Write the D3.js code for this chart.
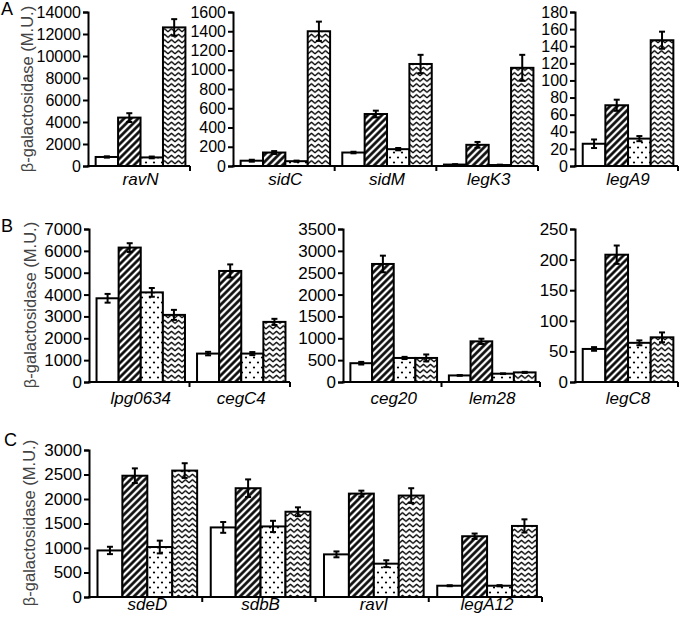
<!DOCTYPE html>
<html><head><meta charset="utf-8">
<script src="https://cdn.jsdelivr.net/npm/d3@7"></script>
<style>body{margin:0;background:#fff} text{font-family:"Liberation Sans",Arial,sans-serif}</style>
</head><body><svg id="c" width="680" height="620"></svg>
<script>
// ---------- data ----------
const genes     = ["ravN","sidC","sidM","legK3","legA9","lpg0634","cegC4","ceg20","lem28","legC8","sdeD","sdbB","ravI","legA12"];
const openVals  = [820, 55, 140, 15, 26, 3830, 1300, 430, 150, 54, 950, 1420, 870, 230];
const hatchVals = [4400, 140, 540, 220, 71, 6150, 5080, 2700, 930, 208, 2475, 2220, 2110, 1240];
const dotVals   = [780, 50, 175, 10, 32, 4100, 1300, 550, 190, 64, 1020, 1440, 680, 230];
const wavyVals  = [12600, 1400, 1060, 1020, 147, 3070, 2750, 550, 220, 73, 2580, 1740, 2070, 1450];
const openErr   = [60, 10, 8, 4, 5, 200, 80, 30, 8, 3, 75, 110, 60, 10];
const hatchErr  = [400, 15, 35, 30, 6.5, 200, 300, 190, 60, 15, 150, 180, 60, 55];
const dotErr    = [80, 6, 12, 4, 3, 200, 70, 25, 8, 4, 130, 115, 70, 12];
const wavyErr   = [750, 100, 95, 135, 10, 230, 140, 80, 12, 8, 150, 90, 150, 135];

const ticksA1 = [0,2000,4000,6000,8000,10000,12000,14000];
const ticksA2 = [0,200,400,600,800,1000,1200,1400,1600];
const ticksA3 = [0,20,40,60,80,100,120,140,160,180];
const ticksB1 = [0,1000,2000,3000,4000,5000,6000,7000];
const ticksB2 = [0,500,1000,1500,2000,2500,3000,3500];
const ticksB3 = [0,50,100,150,200,250];
const ticksC  = [0,500,1000,1500,2000,2500,3000];

const patterns = ["open","hatch","dots","wavy"];
const yTitle = "β-galactosidase (M.U.)";

// ---------- layout ----------
const plots = [
  {genes:["ravN"], ticks:ticksA1, x0:88, x1:190, yTop:12, yZero:166, fs:16, lab:19},
  {genes:["sidC","sidM","legK3"], ticks:ticksA2, x0:233, x1:538, yTop:12, yZero:166, fs:16, lab:19},
  {genes:["legA9"], ticks:ticksA3, x0:575, x1:678, yTop:12, yZero:166, fs:16, lab:19},
  {genes:["lpg0634","cegC4"], ticks:ticksB1, x0:89, x1:290, yTop:229, yZero:382, fs:17, lab:22},
  {genes:["ceg20","lem28"], ticks:ticksB2, x0:343, x1:540, yTop:229, yZero:382, fs:17, lab:22},
  {genes:["legC8"], ticks:ticksB3, x0:575, x1:678, yTop:229, yZero:382, fs:17, lab:22},
  {genes:["sdeD","sdbB","ravI","legA12"], ticks:ticksC, x0:89, x1:542, yTop:450, yZero:597, fs:17, lab:13}
];
const titles = [{y:89, x:33, letter:"A", lx:1, ly:15},
                {y:305, x:36, letter:"B", lx:1, ly:232},
                {y:523, x:35, letter:"C", lx:4, ly:446}];

const svg = d3.select("#c");
const defs = svg.append("defs");
// hatch
const ph = defs.append("pattern").attr("id","hatch").attr("patternUnits","userSpaceOnUse")
  .attr("width",5).attr("height",5).attr("patternTransform","rotate(45)");
ph.append("rect").attr("width",5).attr("height",5).attr("fill","#fff");
ph.append("line").attr("x1",1.5).attr("x2",1.5).attr("y1",0).attr("y2",5).attr("stroke","#000").attr("stroke-width",2.6);
// dots
const pd = defs.append("pattern").attr("id","dots").attr("patternUnits","userSpaceOnUse")
  .attr("width",8).attr("height",10);
pd.append("rect").attr("width",8).attr("height",10).attr("fill","#fff");
pd.append("circle").attr("cx",2).attr("cy",2.5).attr("r",1.1).attr("fill","#000");
pd.append("circle").attr("cx",6).attr("cy",7.5).attr("r",1.1).attr("fill","#000");
// wavy
const pw = defs.append("pattern").attr("id","wavy").attr("patternUnits","userSpaceOnUse")
  .attr("width",7).attr("height",5.5);
pw.append("rect").attr("width",7).attr("height",5.5).attr("fill","#fff");
pw.append("path").attr("d","M-1,3.5 L0,4.2 L3.5,1.3 L7,4.2 L8,3.5").attr("fill","none")
  .attr("stroke","#000").attr("stroke-width",1.3).attr("stroke-linejoin","round");

const fills = {open:"#fff", hatch:"url(#hatch)", dots:"url(#dots)", wavy:"url(#wavy)"};
const valsBy = [openVals, hatchVals, dotVals, wavyVals];
const errsBy = [openErr, hatchErr, dotErr, wavyErr];

plots.forEach(p => {
  const y = d3.scaleLinear().domain([0, d3.max(p.ticks)]).range([p.yZero, p.yTop]);
  const xg = d3.scaleBand().domain(p.genes).range([p.x0, p.x1]).paddingInner(0).paddingOuter(0);
  const bw = xg.bandwidth();
  const xb = d3.scaleBand().domain(patterns).range([bw*0.075, bw*0.955]).padding(0);
  const g = svg.append("g");
  const rows = [];
  p.genes.forEach(gn => {
    const gi = genes.indexOf(gn);
    patterns.forEach((pt, k) => rows.push({gene:gn, pt, v:valsBy[k][gi], e:errsBy[k][gi]}));
  });
  g.selectAll("rect.bar").data(rows).join("rect").attr("class","bar")
    .attr("x", d => xg(d.gene) + xb(d.pt))
    .attr("width", xb.bandwidth())
    .attr("y", d => y(d.v))
    .attr("height", d => y(0) - y(d.v))
    .attr("fill", d => fills[d.pt]).attr("stroke","#000").attr("stroke-width",2);
  // error bars
  const eb = g.selectAll("g.err").data(rows).join("g").attr("class","err")
    .attr("transform", d => `translate(${xg(d.gene)+xb(d.pt)+xb.bandwidth()/2},0)`);
  eb.append("line").attr("y1", d => y(d.v - d.e)).attr("y2", d => y(d.v + d.e))
    .attr("stroke","#000").attr("stroke-width",2);
  eb.append("line").attr("x1",-3).attr("x2",3).attr("y1", d => y(d.v + d.e)).attr("y2", d => y(d.v + d.e))
    .attr("stroke","#000").attr("stroke-width",2);
  eb.append("line").attr("x1",-3).attr("x2",3).attr("y1", d => y(d.v - d.e)).attr("y2", d => y(d.v - d.e))
    .attr("stroke","#000").attr("stroke-width",2);
  // y axis
  const ya = g.append("g").attr("transform",`translate(${p.x0},0)`)
    .call(d3.axisLeft(y).tickValues(p.ticks).tickSizeOuter(0).tickSize(5).tickPadding(2).tickFormat(d3.format("d")));
  ya.select(".domain").attr("stroke-width",2);
  ya.selectAll(".tick line").attr("stroke-width",2);
  ya.selectAll("text").attr("font-size",p.fs).attr("font-family","'Liberation Sans',Arial,sans-serif").attr("fill","#000");
  // x axis
  g.append("line").attr("x1",p.x0-1).attr("x2",p.x1).attr("y1",p.yZero).attr("y2",p.yZero)
    .attr("stroke","#000").attr("stroke-width",2);
  g.selectAll("line.xt").data(p.genes).join("line").attr("class","xt")
    .attr("x1", d => xg(d)+bw).attr("x2", d => xg(d)+bw)
    .attr("y1", p.yZero).attr("y2", p.yZero+5).attr("stroke","#000").attr("stroke-width",2);
  g.selectAll("text.cat").data(p.genes).join("text").attr("class","cat")
    .attr("x", d => xg(d) + bw*0.515).attr("y", p.yZero + p.lab)
    .attr("text-anchor","middle").attr("font-style","italic").attr("font-size",17).text(d => d);
});

titles.forEach(t => {
  svg.append("text").attr("transform",`translate(${t.x},${t.y}) rotate(-90)`)
    .attr("text-anchor","middle").attr("font-size",16.5).attr("fill","#444").text(yTitle);
  svg.append("text").attr("x",t.lx).attr("y",t.ly).attr("font-size",18).text(t.letter);
});
</script></body></html>
